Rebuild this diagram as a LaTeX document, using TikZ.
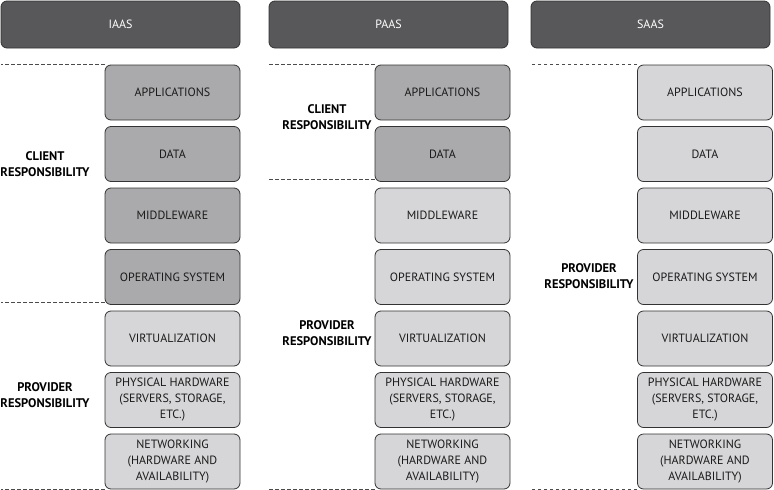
\documentclass[tikz,border=0pt]{standalone}
\usepackage{fontspec}
\setmainfont{PT Sans}
\usetikzlibrary{positioning}
\definecolor{scuro}{HTML}{58585A}
\definecolor{bordo}{HTML}{333333}
\definecolor{cliente}{HTML}{AAAAAC}
\definecolor{fornitore}{HTML}{D6D6D8}
\definecolor{testo}{HTML}{1A1A1A}
\tikzset{
  testata/.style    = {rectangle, draw=bordo, line width=0.8pt, rounded corners=6pt, fill=scuro, text=white, minimum width=239pt, minimum height=47pt, font=\fontsize{12}{14}\selectfont},
  strato/.style     = {rectangle, draw=bordo, line width=0.8pt, rounded corners=6pt, minimum width=135pt, minimum height=55pt, align=center, text=testo, inner sep=1pt, font=\fontsize{12}{16}\selectfont},
  cli/.style        = {strato, fill=cliente},
  forn/.style       = {strato, fill=fornitore},
  resp/.style       = {align=center, text=black, font=\bfseries\fontsize{12.5}{16}\selectfont},
  tratto/.style     = {draw=black!70, line width=0.7pt, dash pattern=on 3.5pt off 2.5pt}
}
\begin{document}
\begin{tikzpicture}[x=1pt, y=-1pt, node distance=5.7pt]
  \useasboundingbox (0,0) rectangle (774,490);

  % intestazioni
  \node[testata] (iaas) at (120.5,24.5) {IAAS};
  \node[testata] (paas) at (388.5,24.5) {PAAS};
  \node[testata] (saas) at (650.5,24.5) {SAAS};

  % IAAS
  \node[cli] (iapp) at (172.5,92.5) {APPLICATIONS};
  \node[cli, below=of iapp]   (idata) {DATA};
  \node[cli, below=of idata]  (imid)  {MIDDLEWARE};
  \node[cli, below=of imid]   (ios)   {OPERATING SYSTEM};
  \node[forn, below=of ios]   (ivirt) {VIRTUALIZATION};
  \node[forn, below=of ivirt] (ihw)   {PHYSICAL HARDWARE\\(SERVERS, STORAGE,\\ETC.)};
  \node[forn, below=of ihw]   (inet)  {NETWORKING\\(HARDWARE AND\\AVAILABILITY)};

  % PAAS
  \node[cli] (papp) at (442.5,92.5) {APPLICATIONS};
  \node[cli, below=of papp]   (pdata) {DATA};
  \node[forn, below=of pdata] (pmid)  {MIDDLEWARE};
  \node[forn, below=of pmid]  (pos)   {OPERATING SYSTEM};
  \node[forn, below=of pos]   (pvirt) {VIRTUALIZATION};
  \node[forn, below=of pvirt] (phw)   {PHYSICAL HARDWARE\\(SERVERS, STORAGE,\\ETC.)};
  \node[forn, below=of phw]   (pnet)  {NETWORKING\\(HARDWARE AND\\AVAILABILITY)};

  % SAAS
  \node[forn] (sapp) at (705,92.5) {APPLICATIONS};
  \node[forn, below=of sapp]  (sdata) {DATA};
  \node[forn, below=of sdata] (smid)  {MIDDLEWARE};
  \node[forn, below=of smid]  (sos)   {OPERATING SYSTEM};
  \node[forn, below=of sos]   (svirt) {VIRTUALIZATION};
  \node[forn, below=of svirt] (shw)   {PHYSICAL HARDWARE\\(SERVERS, STORAGE,\\ETC.)};
  \node[forn, below=of shw]   (snet)  {NETWORKING\\(HARDWARE AND\\AVAILABILITY)};

  % responsabilita
  \node[resp] (icli)  at (45,164)  {CLIENT\\RESPONSIBILITY};
  \node[resp] (iforn) at (45,395)  {PROVIDER\\RESPONSIBILITY};
  \node[resp] (pcli)  at (327,117) {CLIENT\\RESPONSIBILITY};
  \node[resp] (pforn) at (327,333) {PROVIDER\\RESPONSIBILITY};
  \node[resp] (sforn) at (589,276) {PROVIDER\\RESPONSIBILITY};

  % linee tratteggiate
  \draw[tratto] (iapp.north west) -- (iapp.north west -| iaas.west);
  \draw[tratto] ([yshift=3pt]ios.south west) -- ([yshift=3pt]ios.south west -| iaas.west);
  \draw[tratto] (inet.south west) -- (inet.south west -| iaas.west);
  \draw[tratto] (papp.north west) -- (papp.north west -| paas.west);
  \draw[tratto] ([yshift=3pt]pdata.south west) -- ([yshift=3pt]pdata.south west -| paas.west);
  \draw[tratto] (pnet.south west) -- (pnet.south west -| paas.west);
  \draw[tratto] (sapp.north west) -- (sapp.north west -| saas.west);
  \draw[tratto] (snet.south west) -- (snet.south west -| saas.west);

\end{tikzpicture}
\end{document}
